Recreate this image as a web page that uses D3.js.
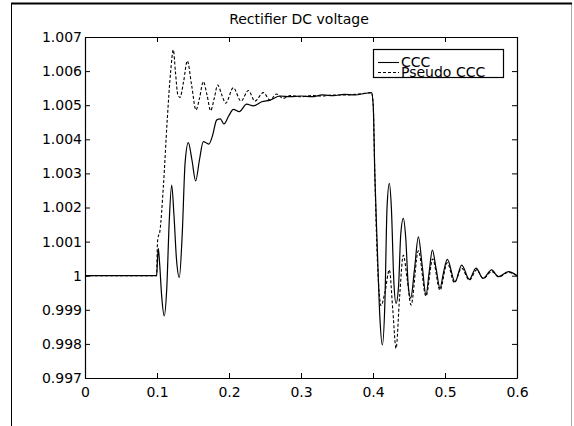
<!DOCTYPE html>
<html lang="en">
  <head>
    <meta charset="utf-8">
    <title>Rectifier DC voltage</title>
    <script src="https://cdn.jsdelivr.net/npm/d3@7"></script>
    <style>
      body { margin: 0; background: #fff; }
      text { font-family: "DejaVu Sans", sans-serif; fill: #000; }
    </style>
  </head>
  <body>
    <script type="text/javascript">
      // time samples and voltages (per unit)
      var tCCC = [0, 0.0995, 0.1005, 0.1018, 0.1035, 0.1065, 0.110, 0.1135, 0.117, 0.1204,
        0.1235, 0.127, 0.131, 0.135, 0.139, 0.1435, 0.1485, 0.1537, 0.159, 0.1643,
        0.168, 0.172, 0.177, 0.183, 0.188, 0.193, 0.200, 0.206, 0.2143, 0.2245,
        0.2338, 0.2454, 0.257, 0.2708, 0.285, 0.300, 0.315, 0.330, 0.345, 0.360,
        0.375, 0.390, 0.398, 0.4003, 0.4025, 0.406, 0.4095, 0.413, 0.4165, 0.4195,
        0.4227, 0.4255, 0.429, 0.432, 0.4355, 0.4385, 0.4421, 0.4455, 0.449, 0.4524,
        0.4577, 0.463, 0.4683, 0.4736, 0.478, 0.4824, 0.4877, 0.493, 0.498, 0.5032,
        0.5139, 0.5232, 0.5338, 0.543, 0.5528, 0.5648, 0.574, 0.588, 0.600];
      var vCCC = [1.0, 1.0, 1.0004, 1.0008, 1.0004, 0.9994, 0.99882, 0.9996, 1.0016, 1.00266,
        1.0018, 1.0005, 0.99995, 1.0012, 1.0033, 1.0039, 1.0034, 1.00278, 1.0034, 1.00393,
        1.0039, 1.00386, 1.0041, 1.00457, 1.0046, 1.00445, 1.0047, 1.00488, 1.00481, 1.00503,
        1.00498, 1.0051, 1.00515, 1.00527, 1.00525, 1.00527, 1.00525, 1.0053, 1.00528, 1.00532,
        1.0053, 1.00535, 1.00537, 1.0050, 1.0030, 1.0008, 0.9988, 0.99797, 0.9992, 1.0020,
        1.00271, 1.0020, 0.9998, 0.99919, 0.9997, 1.0012, 1.00168, 1.0011, 0.9997, 0.99934,
        1.0002, 1.00114, 1.0003, 0.99943, 1.0001, 1.00075, 1.0002, 0.99963, 1.0001, 1.00048,
        0.99982, 1.00031, 0.99989, 1.00022, 0.99992, 1.00017, 0.99997, 1.00012, 1.0];

      var tPseudo = [0, 0.0995, 0.1005, 0.1013, 0.104, 0.1088, 0.1143, 0.119, 0.1227, 0.1255,
        0.129, 0.132, 0.137, 0.1421, 0.148, 0.1542, 0.159, 0.1643, 0.1695, 0.1745,
        0.1795, 0.1843, 0.190, 0.1954, 0.206, 0.2167, 0.2269, 0.236, 0.2477, 0.257,
        0.266, 0.275, 0.285, 0.300, 0.315, 0.330, 0.345, 0.360, 0.375, 0.390,
        0.398, 0.4003, 0.4025, 0.406, 0.4095, 0.411, 0.4165, 0.4227, 0.4275, 0.432,
        0.437, 0.4421, 0.4475, 0.4528, 0.463, 0.4736, 0.4829, 0.493, 0.5032, 0.513,
        0.5232, 0.5338, 0.544, 0.553, 0.565, 0.575, 0.588, 0.600];
      var vPseudo = [1.0, 1.0, 1.0009, 1.0011, 1.0013, 1.0026, 1.0046, 1.0060, 1.00662, 1.0060,
        1.0053, 1.00523, 1.0057, 1.0063, 1.0056, 1.00486, 1.0052, 1.00569, 1.0053, 1.00484,
        1.0052, 1.00559, 1.0053, 1.00506, 1.00551, 1.00512, 1.00543, 1.00512, 1.00537, 1.00515,
        1.00533, 1.0052, 1.00528, 1.00525, 1.00528, 1.00527, 1.0053, 1.0053, 1.00532, 1.00535,
        1.00537, 1.0050, 1.0030, 1.0005, 0.9993, 0.99912, 0.9995, 1.00017, 0.9990, 0.99787,
        0.9994, 1.0006, 0.9999, 0.99914, 1.00073, 0.9994, 1.00049, 0.99958, 1.00038, 0.9998,
        1.00022, 0.99987, 1.00017, 0.99992, 1.00012, 0.99997, 1.0001, 1.0];

      var xTicks = [0, 0.1, 0.2, 0.3, 0.4, 0.5, 0.6];
      var xTickLabels = ["0", "0.1", "0.2", "0.3", "0.4", "0.5", "0.6"];
      var yTicks = [0.997, 0.998, 0.999, 1.0, 1.001, 1.002, 1.003, 1.004, 1.005, 1.006, 1.007];
      var yTickLabels = ["0.997", "0.998", "0.999", "1", "1.001", "1.002", "1.003",
        "1.004", "1.005", "1.006", "1.007"];
      var seriesNames = ["CCC", "Pseudo CCC"];
      var titleText = "Rectifier DC voltage";

      var W = 574, H = 426;
      var pLeft = 85, pRight = 517, pTop = 37, pBottom = 378;

      var svg = d3.select("body").append("svg")
        .attr("width", W)
        .attr("height", H);

      // window frame, cut off at the bottom
      svg.append("line").attr("x1", 11.5).attr("x2", 11.5).attr("y1", 3).attr("y2", H)
        .attr("stroke", "#000").attr("stroke-width", 1);
      svg.append("line").attr("x1", 571.5).attr("x2", 571.5).attr("y1", 3).attr("y2", H)
        .attr("stroke", "#aaa").attr("stroke-width", 1);
      svg.append("line").attr("x1", 11).attr("x2", 572).attr("y1", 3.5).attr("y2", 3.5)
        .attr("stroke", "#000").attr("stroke-width", 2);

      var x = d3.scaleLinear().domain([0, 0.6]).range([pLeft, pRight]);
      var y = d3.scaleLinear().domain([0.997, 1.007]).range([pBottom, pTop]);

      // axes, ticks pointing inwards on all four sides
      var fmtX = function (d, i) { return xTickLabels[i]; };
      var fmtY = function (d, i) { return yTickLabels[i]; };

      var gx = svg.append("g").attr("transform", "translate(0," + pBottom + ")")
        .call(d3.axisBottom(x).tickValues(xTicks).tickFormat(fmtX)
          .tickSizeInner(-5).tickSizeOuter(0).tickPadding(9));
      var gxt = svg.append("g").attr("transform", "translate(0," + pTop + ")")
        .call(d3.axisTop(x).tickValues(xTicks).tickFormat("")
          .tickSizeInner(-5).tickSizeOuter(0));
      var gy = svg.append("g").attr("transform", "translate(" + pLeft + ",0)")
        .call(d3.axisLeft(y).tickValues(yTicks).tickFormat(fmtY)
          .tickSizeInner(-5).tickSizeOuter(0).tickPadding(3));
      var gyr = svg.append("g").attr("transform", "translate(" + pRight + ",0)")
        .call(d3.axisRight(y).tickValues(yTicks).tickFormat("")
          .tickSizeInner(-5).tickSizeOuter(0));

      [gx, gxt, gy, gyr].forEach(function (g) {
        g.selectAll("path.domain").attr("stroke", "#000").attr("stroke-width", 1.2);
        g.selectAll(".tick line").attr("stroke", "#000");
        g.selectAll("text")
          .style("font-family", "DejaVu Sans, sans-serif")
          .style("font-size", "14px")
          .attr("fill", "#000");
      });

      // title
      svg.append("text")
        .attr("x", 299)
        .attr("y", 24)
        .attr("text-anchor", "middle")
        .style("font-size", "14px")
        .text(titleText);

      // curves (monotone so the flat start does not sag)
      var line = d3.line()
        .x(function (d) { return x(d[0]); })
        .y(function (d) { return y(d[1]); })
        .curve(d3.curveMonotoneX);

      var ccc = tCCC.map(function (t, i) { return [t, vCCC[i]]; });
      var pseudo = tPseudo.map(function (t, i) { return [t, vPseudo[i]]; });

      svg.append("path")
        .attr("d", line(pseudo))
        .attr("fill", "none")
        .attr("stroke", "#000")
        .attr("stroke-width", 1.1)
        .attr("stroke-dasharray", "3,2");

      svg.append("path")
        .attr("d", line(ccc))
        .attr("fill", "none")
        .attr("stroke", "#000")
        .attr("stroke-width", 1.2);

      // legend, packed as tight as in the original
      var lg = svg.append("g");
      lg.append("rect")
        .attr("x", 373.5).attr("y", 49.5)
        .attr("width", 130).attr("height", 28)
        .attr("fill", "#fff").attr("stroke", "#000").attr("stroke-width", 1.2);
      var dashes = [null, "3,2"];
      seriesNames.forEach(function (name, i) {
        var ly = 62.5 + i * 10;
        lg.append("line")
          .attr("x1", 378).attr("x2", 399)
          .attr("y1", ly).attr("y2", ly)
          .attr("stroke", "#000").attr("stroke-width", 1.1)
          .attr("stroke-dasharray", dashes[i]);
        lg.append("text")
          .attr("x", 401)
          .attr("y", 66.5 + i * 10.5)
          .style("font-size", "14px")
          .text(name);
      });
    </script>
  </body>
</html>
